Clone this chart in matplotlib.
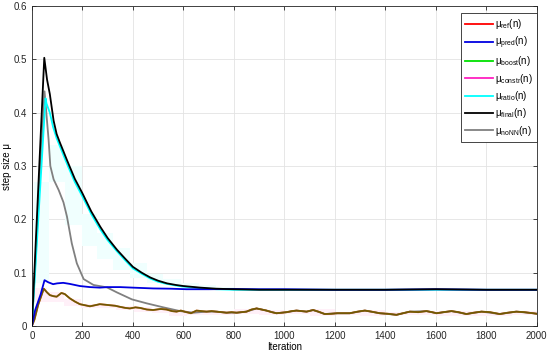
import numpy as np
import matplotlib
matplotlib.use('Agg')
import matplotlib.pyplot as plt
from matplotlib.lines import Line2D

plt.rcParams['font.family'] = ['Liberation Sans', 'DejaVu Sans']
plt.rcParams['mathtext.default'] = 'regular'

# mu_final (black)
it_final = [0, 49, 60, 71, 86, 98, 110, 139, 170, 200, 235, 271, 300, 337, 370, 400, 435, 469, 500,
            535, 570, 600, 667, 730, 800, 900, 1000, 1200, 1400, 1600, 1800, 2000]
mu_final = [0, 0.503, 0.462, 0.435, 0.385, 0.36, 0.345, 0.311, 0.276, 0.249, 0.215, 0.186, 0.165,
            0.143, 0.126, 0.111, 0.100, 0.091, 0.085, 0.080, 0.077, 0.075, 0.072, 0.070, 0.069,
            0.068, 0.068, 0.068, 0.068, 0.069, 0.068, 0.068]

# mu_ratio (cyan)
it_ratio = [0, 54, 58, 71, 84, 98, 110, 139, 170, 200, 235, 271, 300, 337, 370, 400, 435, 469, 500,
            535, 570, 600, 667, 730, 800, 900, 1000, 1200, 1400, 1600, 1800, 2000]
mu_ratio = [0, 0.427, 0.417, 0.400, 0.373, 0.352, 0.338, 0.304, 0.270, 0.243, 0.210, 0.181, 0.161,
            0.140, 0.123, 0.108, 0.098, 0.089, 0.083, 0.079, 0.076, 0.074, 0.071, 0.069, 0.068,
            0.068, 0.068, 0.068, 0.068, 0.068, 0.068, 0.068]

# mu_pred (blue)
it_pred = [0, 13, 35, 50, 65, 84, 100, 124, 150, 190, 230, 269, 300, 349, 400, 480, 550, 612, 700,
           800, 900, 1000, 1200, 1400, 1600, 1800, 2000]
mu_pred = [0, 0.03, 0.06, 0.086, 0.082, 0.0785, 0.080, 0.081, 0.079, 0.075, 0.073, 0.072, 0.073,
           0.073, 0.072, 0.0705, 0.070, 0.069, 0.069, 0.0695, 0.069, 0.069, 0.068, 0.068, 0.069,
           0.068, 0.068]

# mu_ref / mu_boost / mu_constr (overlapping)
it_ref = [0, 10, 25, 47, 60, 71, 85, 98, 117, 130, 150, 170, 190, 210, 230, 250, 269, 290, 309,
          330, 349, 370, 388, 410, 428, 455, 480, 510, 533, 555, 573, 590, 612, 630, 652, 672,
          692, 712, 731, 751, 771, 791, 811, 830, 850, 870, 890, 910, 929, 950, 969, 990, 1009,
          1030, 1048, 1068, 1088, 1114, 1135, 1160, 1185, 1210, 1235, 1259, 1290, 1319, 1345,
          1378, 1410, 1444, 1470, 1497, 1530, 1563, 1585, 1603, 1630, 1662, 1690, 1721, 1750,
          1781, 1815, 1853, 1885, 1919, 1950, 1985, 2000]
mu_ref = [0, 0.012, 0.04, 0.070, 0.063, 0.058, 0.056, 0.055, 0.062, 0.060, 0.052, 0.046, 0.041,
          0.039, 0.037, 0.039, 0.041, 0.040, 0.039, 0.038, 0.036, 0.034, 0.033, 0.035, 0.034,
          0.031, 0.030, 0.032, 0.031, 0.028, 0.027, 0.029, 0.026, 0.024, 0.029, 0.028, 0.027,
          0.028, 0.027, 0.026, 0.025, 0.026, 0.025, 0.026, 0.027, 0.031, 0.033, 0.031, 0.029,
          0.026, 0.024, 0.025, 0.026, 0.028, 0.029, 0.028, 0.027, 0.030, 0.027, 0.0225, 0.023,
          0.024, 0.024, 0.024, 0.027, 0.029, 0.027, 0.024, 0.023, 0.021, 0.024, 0.027, 0.026,
          0.028, 0.026, 0.024, 0.026, 0.028, 0.026, 0.0225, 0.025, 0.027, 0.026, 0.0225, 0.025,
          0.027, 0.026, 0.024, 0.023]

# mu_noNN (gray)
it_nonn = [0, 50, 66, 73, 86, 106, 125, 139, 158, 178, 205, 244, 297, 337, 396, 455, 521, 587,
           640, 692, 731, 771, 811, 850, 890, 929, 969, 1009, 1048, 1088, 1114, 1160, 1210, 1259,
           1319, 1378, 1444, 1497, 1563, 1603, 1662, 1721, 1781, 1853, 1919, 1985, 2000]
mu_nonn = [0, 0.44, 0.35, 0.30, 0.275, 0.255, 0.232, 0.205, 0.155, 0.1175, 0.088, 0.077, 0.0725,
           0.063, 0.050, 0.0425, 0.035, 0.028, 0.025, 0.027, 0.027, 0.025, 0.025, 0.027, 0.033,
           0.029, 0.024, 0.026, 0.029, 0.027, 0.030, 0.0225, 0.024, 0.024, 0.029, 0.024, 0.021,
           0.027, 0.028, 0.024, 0.028, 0.0225, 0.027, 0.0225, 0.027, 0.024, 0.023]

# faint shaded bands
ratio_edges = [7, 66, 132, 198, 257, 323, 390, 455, 520, 590, 660, 730, 800]
ratio_hi = [0.27, 0.34, 0.30, 0.21, 0.175, 0.146, 0.118, 0.098, 0.088, 0.080, 0.076, 0.073]
ratio_lo = [0.08, 0.27, 0.19, 0.15, 0.125, 0.105, 0.090, 0.081, 0.076, 0.072, 0.070, 0.068]

constr_edges = [7, 60, 128, 195, 265, 335, 405, 475, 545, 615, 700, 800, 900, 1000, 1100, 1200,
                1300, 1400, 1500, 1600, 1700, 1800, 1900, 2000]
constr_hi = [0.072, 0.064, 0.050, 0.042, 0.042, 0.038, 0.035, 0.032, 0.030, 0.029, 0.028, 0.032,
             0.030, 0.029, 0.031, 0.026, 0.030, 0.026, 0.028, 0.029, 0.028, 0.027, 0.028]
constr_lo = [0.045, 0.045, 0.037, 0.034, 0.033, 0.030, 0.027, 0.024, 0.018, 0.020, 0.021, 0.022,
             0.021, 0.022, 0.019, 0.020, 0.018, 0.020, 0.020, 0.019, 0.019, 0.019, 0.020]

labels = [r'$\mu_{ref}$(n)', r'$\mu_{pred}$(n)', r'$\mu_{boost}$(n)', r'$\mu_{constr}$(n)',
          r'$\mu_{ratio}$(n)', r'$\mu_{final}$(n)', r'$\mu_{noNN}$(n)']
colors = ['#ff0000', '#0000e0', '#00e000', '#ff20c0', '#00ffff', 'black', '#808080']

fig = plt.figure(figsize=(5.5, 3.54), dpi=100)
ax = fig.add_axes([0.058, 0.079, 0.918, 0.904])

ax.stairs(ratio_hi, ratio_edges, baseline=ratio_lo, fill=True, color='#f0fffe', lw=0, zorder=1)
ax.stairs(constr_hi, constr_edges, baseline=constr_lo, fill=True, color='#fff0f8', lw=0, zorder=1)

lw = 1.3
# ref, boost and constr lie on top of each other -> brownish mix
ax.plot(it_ref, mu_ref, color=colors[0], lw=lw, zorder=3)
ax.plot(it_pred, mu_pred, color=colors[1], lw=lw, zorder=4)
ax.plot(it_ref, mu_ref, color=colors[2], lw=lw, alpha=0.5, zorder=3)
ax.plot(it_ref, mu_ref, color='#5a3010', lw=0.8, alpha=0.45, zorder=3)
ax.plot(it_ratio, mu_ratio, color=colors[4], lw=lw, zorder=3)
ax.plot(it_final, mu_final, color=colors[5], lw=lw, zorder=5)
ax.plot(it_nonn, mu_nonn, color=colors[6], lw=lw, zorder=2)

ax.set_xlim(0, 2000)
ax.set_ylim(0, 0.6)
ax.set_xticks(np.arange(0, 2001, 200))
ax.set_yticks(np.arange(0, 0.61, 0.1))
ax.set_yticklabels(['0', '0.1', '0.2', '0.3', '0.4', '0.5', '0.6'])
ax.grid(True, color='#e3e3e3', lw=0.6)
ax.set_axisbelow(True)
ax.tick_params(direction='in', top=True, right=True, labelsize=7, colors='#262626', length=3,
               width=0.6)
for s in ax.spines.values():
    s.set_color('#262626')
    s.set_linewidth(0.6)
ax.set_xlabel('Iteration', fontsize=7, labelpad=1)
ax.set_ylabel('step size μ', fontsize=7, labelpad=1)

handles = [Line2D([], [], color=c, lw=lw) for c in colors]
leg = ax.legend(handles, labels, loc='upper right', bbox_to_anchor=(1.0, 0.978), borderaxespad=0,
                fontsize=7, handlelength=2.9, handletextpad=0.2, labelspacing=0.35, fancybox=False,
                framealpha=1, edgecolor='#262626', borderpad=0.4)
leg.get_frame().set_linewidth(0.6)

fig.savefig('out.png', dpi=100)
